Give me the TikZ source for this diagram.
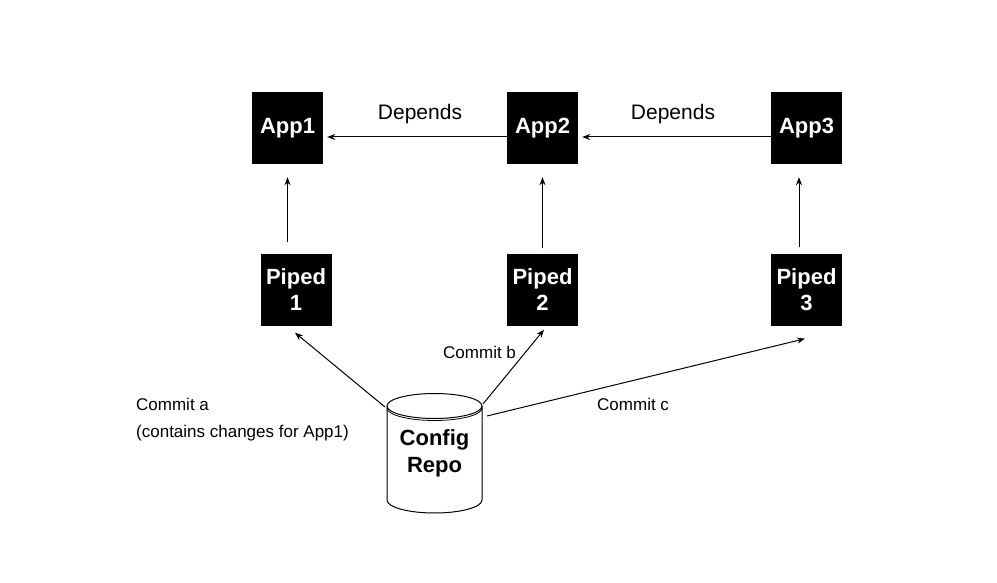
\documentclass[tikz,border=0pt]{standalone}
\usepackage{fontspec}
\setmainfont{Liberation Sans}
\usetikzlibrary{arrows.meta}
\begin{document}
\begin{tikzpicture}[x=1pt,y=-1pt,
  box/.style={fill=black,text=white,font=\fontsize{22}{26}\selectfont\bfseries,
    minimum width=71pt,minimum height=72pt,inner sep=0pt,align=center},
  conn/.style={-{Stealth[length=8pt,width=6pt]},line width=1pt},
  lbl/.style={font=\fontsize{17}{27}\selectfont,inner sep=0pt},
  dep/.style={font=\fontsize{21}{25}\selectfont,inner sep=0pt},
  repotext/.style={font=\fontsize{22}{27}\selectfont\bfseries,align=center,inner sep=0pt}]
\useasboundingbox (0,0) rectangle (997,583);

\node[box] (app1) at (287.5,128) {App1};
\node[box] (app2) at (542.5,128) {App2};
\node[box] (app3) at (806.5,128) {App3};
\node[box] (p1) at (296,289.5) {Piped\\1};
\node[box] (p2) at (542.5,289.5) {Piped\\2};
\node[box] (p3) at (806.5,289.5) {Piped\\3};

% depends arrows
\draw[conn,shorten >=4pt] ([yshift=-9pt]app2.west) -- ([yshift=-9pt]app1.east);
\draw[conn,shorten >=4pt] ([yshift=-9pt]app3.west) -- ([yshift=-9pt]app2.east);
\node[dep] (d1) at (420,114) {Depends};
\node[dep] (d2) at (673,114) {Depends};

% vertical arrows
\draw[conn,shorten <=11pt,shorten >=13pt] (p1.north -| app1.south) -- (app1.south);
\draw[conn,shorten <=5pt,shorten >=13pt] (p2.north) -- (app2.south);
\draw[conn,shorten <=6pt,shorten >=13pt] ([xshift=-7.5pt]p3.north) -- ([xshift=-7.5pt]app3.south);

% cylinder
\draw[line width=1pt,fill=white] (387,406) -- (387,500)
  arc[start angle=180,end angle=360,x radius=47.5pt,y radius=13pt] -- (482,406);
\draw[line width=1pt,fill=white] (434.5,406) ellipse [x radius=47.5pt,y radius=12.5pt];
\draw[line width=0.8pt] (387,408) arc[start angle=180,end angle=360,x radius=47.5pt,y radius=12.5pt];
\node[repotext] (repo) at (434.5,453.5) {Config\\Repo};

\coordinate (ra) at (385,407);
\coordinate (rb) at (483,404);
\coordinate (rc) at (487,416);

\draw[conn] (ra) -- ([xshift=-1pt,yshift=-7pt]p1.south);
\draw[conn] (rb) -- ([xshift=1.5pt,yshift=-4pt]p2.south);
\draw[conn] (rc) -- ([xshift=-1.5pt,yshift=-13pt]p3.south);

\node[lbl,anchor=west] (cb) at (443,352) {Commit b};
\node[lbl,anchor=west] (cc) at (597,404) {Commit c};
\node[lbl,anchor=west,align=left] (ca) at (136,419.5) {Commit a\\(contains changes for App1)};
\end{tikzpicture}
\end{document}
